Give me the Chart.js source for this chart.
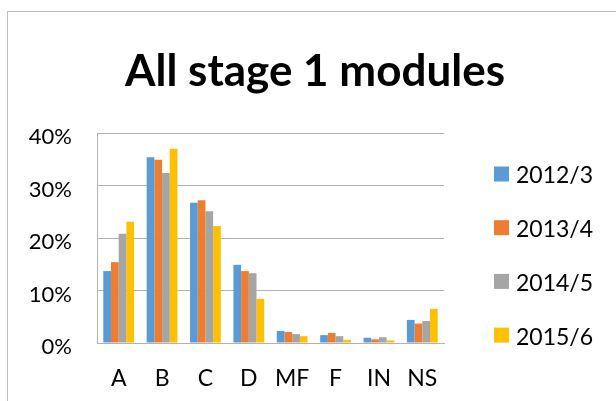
<!DOCTYPE html>
<html>
<head>
<meta charset="utf-8">
<script src="https://cdn.jsdelivr.net/npm/chart.js@4"></script>
<style>
  html, body { margin: 0; padding: 0; background: #fff; }
  #wrap { position: relative; width: 616px; height: 401px; overflow: hidden; }
  #frame { position: absolute; left: 7px; top: 11px; width: 700px; height: 500px;
           border-left: 1px solid #bfbfbf; border-top: 1px solid #bfbfbf; }
  canvas { position: absolute; left: 0; top: 0; }
</style>
</head>
<body>
<div id="wrap">
  <div id="frame"></div>
  <canvas id="gradeChart" width="616" height="401"></canvas>
</div>
<script>
// data
const categories = ['A', 'B', 'C', 'D', 'MF', 'F', 'IN', 'NS'];
const years = ['2012/3', '2013/4', '2014/5', '2015/6'];
const y2012 = [0.137, 0.354, 0.267, 0.149, 0.023, 0.015, 0.010, 0.044];
const y2013 = [0.154, 0.349, 0.272, 0.137, 0.021, 0.019, 0.007, 0.037];
const y2014 = [0.208, 0.324, 0.251, 0.133, 0.017, 0.013, 0.011, 0.042];
const y2015 = [0.231, 0.370, 0.223, 0.084, 0.013, 0.006, 0.005, 0.065];
const yTicks = [0, 0.1, 0.2, 0.3, 0.4];
const colors = ['#5B9BD5', '#ED7D31', '#A5A5A5', '#FFC000'];
const titleText = 'All stage 1 modules';

const FONT = 'Lato, "Open Sans", sans-serif';
const gridGray = '#b3b3b3';

// title (centred on the whole frame) and legend on the right
const decorations = {
    id: 'decorations',
    afterDraw(chart) {
        const c = chart.ctx;
        c.save();
        c.fillStyle = '#000';
        c.font = 'bold 44px ' + FONT;
        c.textAlign = 'center';
        c.textBaseline = 'alphabetic';
        c.fillText(titleText, 315, 86);

        c.textAlign = 'left';
        c.textBaseline = 'middle';
        c.font = '23px ' + FONT;
        chart.data.datasets.forEach((ds, i) => {
            const cy = 174 + i * 53.7;
            c.fillStyle = ds.backgroundColor;
            c.fillRect(494, cy - 7.5, 15, 15);
            c.fillStyle = '#000';
            c.fillText(ds.label, 516, cy + 2);
        });
        c.restore();
    }
};

const ctx = document.getElementById('gradeChart').getContext('2d');
new Chart(ctx, {
    type: 'bar',
    data: {
        labels: categories,
        datasets: [y2012, y2013, y2014, y2015].map((vals, i) => ({
            label: years[i],
            data: vals,
            backgroundColor: colors[i],
            categoryPercentage: 0.71,
            barPercentage: 1
        }))
    },
    options: {
        responsive: false,
        animation: false,
        devicePixelRatio: 1,
        layout: { padding: { left: 10, right: 172, top: 133, bottom: 9 } },
        plugins: {
            legend: { display: false },
            tooltip: { enabled: false },
            title: { display: false }
        },
        scales: {
            x: {
                afterFit: (s) => { s.height = 49; },
                grid: { display: false, drawTicks: false },
                border: { display: true, color: gridGray, width: 1 },
                ticks: { color: '#000', padding: 22, font: { family: FONT, size: 23 } }
            },
            y: {
                min: 0,
                max: 0.4,
                afterFit: (s) => { s.width = 87; },
                afterBuildTicks: (s) => { s.ticks = yTicks.map(v => ({ value: v })); },
                grid: { color: gridGray, drawTicks: false },
                border: { display: true, color: gridGray, width: 1 },
                ticks: {
                    color: '#000',
                    padding: 25,
                    // empty first line nudges the label a few px below its gridline
                    font: { family: FONT, size: 22, lineHeight: 0.4 },
                    callback: (v) => ['', Math.round(v * 100) + '%']
                }
            }
        }
    },
    plugins: [decorations]
});
</script>
</body>
</html>
